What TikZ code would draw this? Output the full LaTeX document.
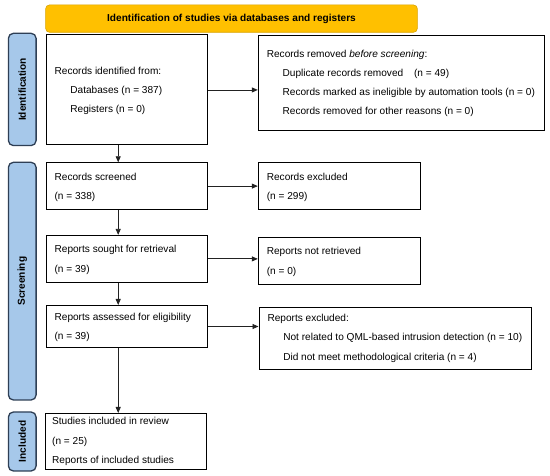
\documentclass[tikz,border=0pt]{standalone}
\usepackage{fontspec}
\setmainfont{Liberation Sans}
\usetikzlibrary{arrows.meta}
\definecolor{bannerfill}{HTML}{FFC000}
\definecolor{bannerdraw}{HTML}{D9A300}
\definecolor{sidefill}{HTML}{A6C8EA}
\definecolor{sidedraw}{HTML}{2E3F55}
\definecolor{linecol}{HTML}{222222}
\begin{document}
\begin{tikzpicture}[x=1pt,y=-1pt,
  box/.style={draw=black, line width=1pt, rectangle, anchor=north west, inner sep=0pt},
  txt/.style={anchor=west, inner sep=0pt, align=left,
    font=\fontsize{10.1}{19.3}\selectfont},
  side/.style={draw=sidedraw, fill=sidefill, line width=1.3pt,
    rounded corners=5pt, rotate=90, inner sep=0pt,
    font=\fontsize{10.1}{12}\selectfont\bfseries},
  banner/.style={draw=bannerdraw, fill=bannerfill, line width=0.6pt,
    rounded corners=4pt, inner sep=0pt,
    font=\fontsize{10.1}{12}\selectfont\bfseries},
  arr/.style={-{Triangle[length=6pt,width=5pt]}, line width=0.8pt, draw=linecol}]
\useasboundingbox (0,0) rectangle (550,476);
\fill[white] (0,0) rectangle (550,476);

\node[banner, minimum width=371.8pt, minimum height=27.4pt] (ban) at (231.5,18.6)
  {Identification of studies via databases and registers};

\node[side, minimum width=112.3pt, minimum height=27.7pt] (sid) at (22.25,89.45) {Identification};
\node[side, minimum width=237.7pt, minimum height=27.7pt] (sscr) at (22.25,281.15) {Screening};
\node[side, minimum width=59pt, minimum height=27.7pt] (sinc) at (22.25,441.5) {Included};

% boxes
\node[box, minimum width=161.4pt, minimum height=110.1pt] (ident) at (45.6,34.4) {};
\node[box, minimum width=286.6pt, minimum height=94.8pt] (removed) at (257.8,35) {};
\node[box, minimum width=161.4pt, minimum height=46.6pt] (screened) at (45.6,162.3) {};
\node[box, minimum width=162.1pt, minimum height=46.6pt] (excl1) at (257.8,162.3) {};
\node[box, minimum width=161.4pt, minimum height=47pt] (sought) at (45.6,234.9) {};
\node[box, minimum width=162.1pt, minimum height=47pt] (notret) at (257.8,237) {};
\node[box, minimum width=161.4pt, minimum height=42pt] (assessed) at (45.6,305) {};
\node[box, minimum width=272.9pt, minimum height=61.7pt] (excl2) at (258.5,307) {};
\node[box, minimum width=161.4pt, minimum height=56pt] (studies) at (44.5,413) {};

% texts
\node[txt] (identT) at ([xshift=8.8pt,yshift=-1pt]ident.west)
  {Records identified from:\\\hspace*{15.8pt}Databases (n = 387)\\\hspace*{15.8pt}Registers (n = 0)};
\node[txt] (removedT) at ([xshift=8.8pt,yshift=-0.5pt]removed.west)
  {Records removed \textit{before screening}:\\
   \hspace*{15.8pt}Duplicate records removed\hspace{8pt} (n = 49)\\
   \hspace*{15.8pt}Records marked as ineligible by automation tools (n = 0)\\
   \hspace*{15.8pt}Records removed for other reasons (n = 0)};
\node[txt] (screenedT) at ([xshift=8.8pt,yshift=-1pt]screened.west) {Records screened\\(n = 338)};
\node[txt] (excl1T) at ([xshift=8.8pt,yshift=-1pt]excl1.west) {Records excluded\\(n = 299)};
\node[txt] (soughtT) at ([xshift=8.8pt,yshift=-1pt]sought.west) {Reports sought for retrieval\\(n = 39)};
\node[txt] (notretT) at ([xshift=8.8pt,yshift=-1pt]notret.west) {Reports not retrieved\\(n = 0)};
\node[txt] (assessedT) at ([xshift=8.8pt,yshift=-1pt]assessed.west) {Reports assessed for eligibility\\(n = 39)};
\node[txt] (excl2T) at ([xshift=8.8pt,yshift=0pt]excl2.west)
  {Reports excluded:\\
   \hspace*{15.8pt}Not related to QML-based intrusion detection (n = 10)\\
   \hspace*{15.8pt}Did not meet methodological criteria (n = 4)};
\node[txt] (studiesT) at ([xshift=7.5pt,yshift=0pt]studies.west)
  {Studies included in review\\(n = 25)\\Reports of included studies};

\coordinate (ax) at (118.2,0);
\draw[arr] (ident.east) -- (ident.east -| removed.west);
\draw[arr] (screened.east) -- (screened.east -| excl1.west);
\draw[arr] (sought.east) -- (sought.east -| notret.west);
\draw[arr] (assessed.east) -- (assessed.east -| excl2.west);
\draw[arr] (ident.south -| ax) -- (screened.north -| ax);
\draw[arr] (screened.south -| ax) -- (sought.north -| ax);
\draw[arr] (sought.south -| ax) -- (assessed.north -| ax);
\draw[arr] (assessed.south -| ax) -- (studies.north -| ax);
\end{tikzpicture}
\end{document}
